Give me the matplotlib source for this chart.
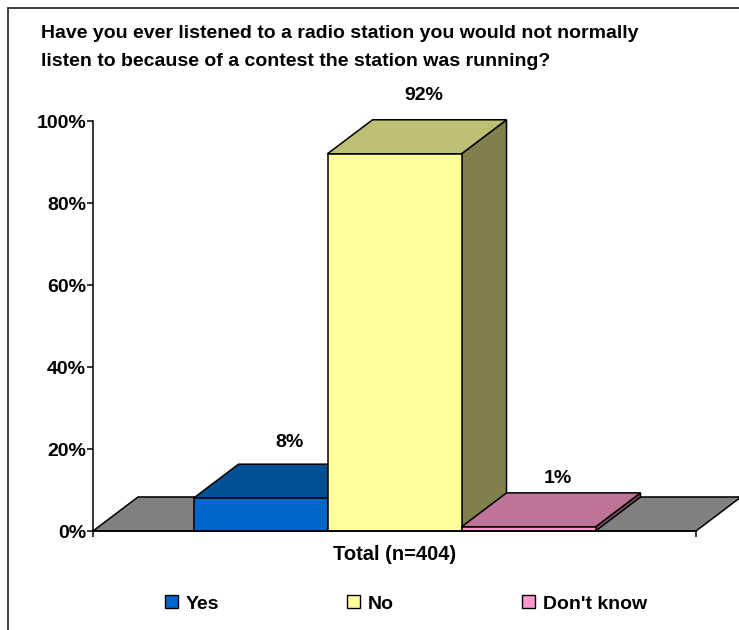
import matplotlib.pyplot as plt
import matplotlib.patches as mpatches
from matplotlib.patches import Polygon, Rectangle
import matplotlib.transforms as mtransforms

plt.rcParams['font.family'] = ['Liberation Sans', 'DejaVu Sans']
plt.rcParams['font.weight'] = 'bold'

title_lines = ["Have you ever listened to a radio station you would not normally",
               "listen to because of a contest the station was running?"]
categories = ["Yes", "No", "Don't know"]
values = [8, 92, 1]
value_labels = ["8%", "92%", "1%"]
group_label = "Total (n=404)"
yticks = [0, 20, 40, 60, 80, 100]
ytick_labels = ["0%", "20%", "40%", "60%", "80%", "100%"]

front_colors = ["#0066CC", "#FFFF99", "#FF99CC"]
top_colors = ["#034F96", "#BFBF73", "#BF7399"]
side_colors = ["#003366", "#80804D", "#805066"]
floor_color = "#808080"
label_pad = [5.4, 5.9, 3.4]   # gap between bar top and its value label

W, H = 739, 630
fig = plt.figure(figsize=(W / 100, H / 100), dpi=100)
ax = fig.add_axes([93 / W, (H - 531) / H, 603 / W, 410 / H])

gap = 0.75
bar_w = 1.0
n = len(values)
xmax = 2 * gap + n * bar_w
ax.set_xlim(0, xmax)
ax.set_ylim(0, 100)

# depth of the pseudo-3D look, in data units
dx = 0.336
dy = 8.3
lw = 1.1

floor = Polygon([(0, 0), (xmax, 0), (xmax + dx, dy), (dx, dy)], closed=True,
                facecolor=floor_color, edgecolor="black", lw=lw, clip_on=False, zorder=2)
ax.add_patch(floor)

for i, v in enumerate(values):
    x0 = gap + i * bar_w
    x1 = x0 + bar_w
    side = Polygon([(x1, 0), (x1 + dx, dy), (x1 + dx, v + dy), (x1, v)], closed=True,
                   facecolor=side_colors[i], edgecolor="black", lw=lw, clip_on=False, zorder=3 + i)
    top = Polygon([(x0, v), (x1, v), (x1 + dx, v + dy), (x0 + dx, v + dy)], closed=True,
                  facecolor=top_colors[i], edgecolor="black", lw=lw, clip_on=False, zorder=3 + i)
    front = Rectangle((x0, 0), bar_w, v, facecolor=front_colors[i], edgecolor="black",
                      lw=lw, clip_on=False, zorder=3 + i)
    ax.add_patch(side)
    ax.add_patch(top)
    ax.add_patch(front)
    ax.text(x0 + bar_w / 2 + dx * 0.65, v + dy + label_pad[i], value_labels[i], ha="center",
            va="center", fontsize=14, fontweight="bold", zorder=10)

for s in ["top", "right"]:
    ax.spines[s].set_visible(False)
ax.spines["left"].set_linewidth(lw)
ax.spines["bottom"].set_linewidth(lw)
ax.spines["bottom"].set_zorder(8)
ax.set_yticks(yticks)
ax.set_yticklabels(ytick_labels, fontsize=14, fontweight="bold")
ax.set_xticks([0, xmax])
ax.set_xticklabels(["", ""])
ax.tick_params(direction="out", length=4, width=lw, pad=1)

trans = mtransforms.blended_transform_factory(ax.transData, fig.transFigure)
ax.text(xmax / 2, (H - 554) / H, group_label, transform=trans, ha="center", va="center",
        fontsize=14.5, fontweight="bold")

fig.text(41 / W, (H - 33) / H, title_lines[0], ha="left", va="center", fontsize=14, fontweight="bold")
fig.text(41 / W, (H - 62) / H, title_lines[1], ha="left", va="center", fontsize=14, fontweight="bold")

handles = [mpatches.Patch(facecolor=c, edgecolor="black", lw=1) for c in front_colors]
fig.legend(handles, categories, loc="center", bbox_to_anchor=(406 / W, (H - 604) / H),
           ncol=3, frameon=False, handlelength=0.65, handleheight=0.65, handletextpad=0.4,
           columnspacing=6.6, prop={"size": 14, "weight": "bold"})

border = Rectangle((7.5 / W, -0.1), 1.2, 1.1 - 8.5 / H, transform=fig.transFigure,
                   fill=False, edgecolor="#333333", lw=1.3, clip_on=False)
fig.patches.append(border)

fig.savefig("out.png", dpi=100)
